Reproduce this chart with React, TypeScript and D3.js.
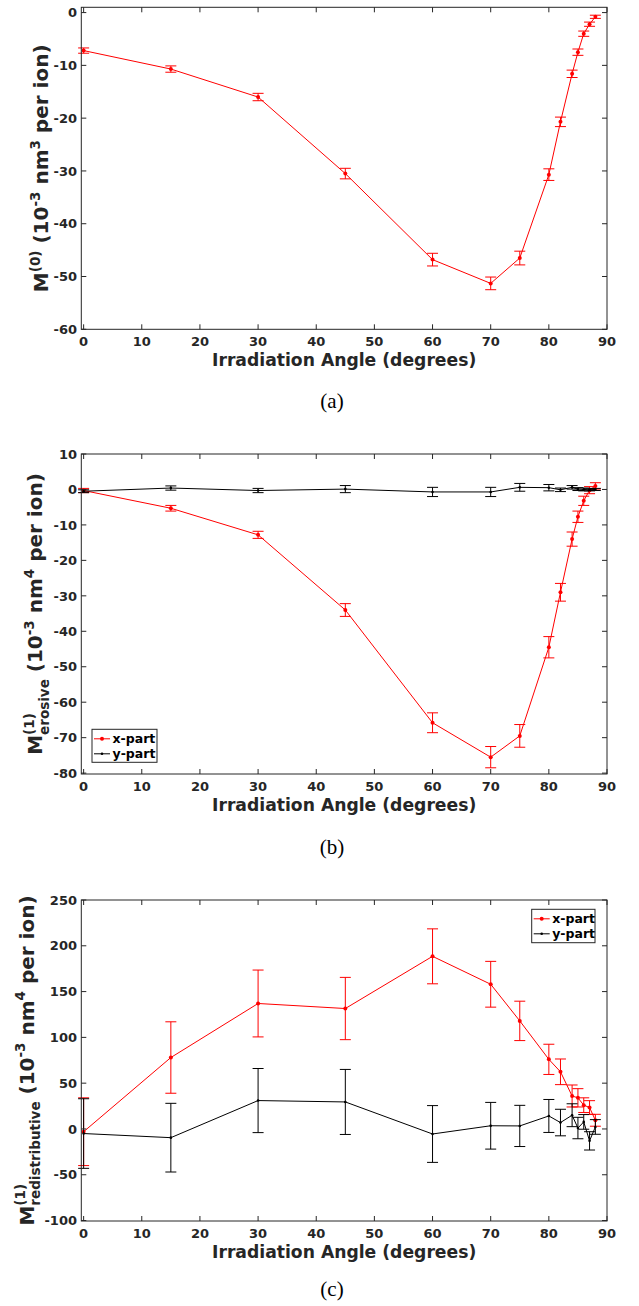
import React from 'react';
import * as d3 from 'd3';

// ---------- data ----------
const angles = [0, 15, 30, 45, 60, 70, 75, 80, 82, 84, 85, 86, 87, 88];

const m0Values = [-7.2, -10.7, -16.0, -30.5, -46.8, -51.3, -46.5, -30.7, -20.7, -11.6, -7.5, -4.0, -2.2, -0.8];
const m0Errors = [0.5, 0.6, 0.7, 1.0, 1.2, 1.2, 1.3, 1.1, 0.9, 0.7, 0.6, 0.5, 0.4, 0.3];

const erosiveX = [-0.3, -5.3, -12.8, -34.0, -65.8, -75.5, -69.5, -44.5, -29.0, -14.0, -7.7, -3.2, -0.2, 1.0];
const erosiveXErr = [0.6, 0.8, 1.0, 1.8, 2.8, 3.0, 3.2, 3.0, 2.5, 2.0, 1.6, 1.3, 1.0, 0.9];
const erosiveY = [-0.5, 0.4, -0.3, 0.1, -0.7, -0.7, 0.6, 0.5, -0.1, 0.6, 0.1, 0.0, -0.1, 0.0];
const erosiveYErr = [0.4, 0.6, 0.6, 1.0, 1.3, 1.3, 1.1, 0.9, 0.5, 0.5, 0.4, 0.4, 0.3, 0.3];

const redistX = [-3, 78, 137, 131.5, 188.5, 158, 118, 76, 62.4, 36, 34, 26, 23.4, 9.5];
const redistXErr = [37, 39, 36.5, 34, 30, 25, 21.5, 16.5, 14, 12, 10, 8, 7.5, 6.5];
const redistY = [-5, -9.5, 31, 29.5, -5.5, 3.5, 3.3, 14.2, 7, 15, 1, 7.7, -13, 2.2];
const redistYErr = [38, 37.5, 35, 35.5, 31, 25.5, 22.5, 18, 14.5, 12.5, 11.7, 8, 10, 8];

const xTicks = [0, 10, 20, 30, 40, 50, 60, 70, 80, 90];
const yTicksA = [0, -10, -20, -30, -40, -50, -60];
const yTicksB = [10, 0, -10, -20, -30, -40, -50, -60, -70, -80];
const yTicksC = [250, 200, 150, 100, 50, 0, -50, -100];

const xLabel = 'Irradiation Angle (degrees)';
const legendNames = ['x-part', 'y-part'];
const captions = ['(a)', '(b)', '(c)'];

type Seg = { t: string; k: 'n' | 'sup' | 'sub' };
const yLabelA: Seg[] = [
  { t: 'M', k: 'n' }, { t: '(0)', k: 'sup' }, { t: ' (10', k: 'n' }, { t: '-3', k: 'sup' },
  { t: ' nm', k: 'n' }, { t: '3', k: 'sup' }, { t: ' per ion)', k: 'n' },
];
const yLabelB: Seg[] = [
  { t: 'M', k: 'n' }, { t: '(1)', k: 'sup' }, { t: 'erosive', k: 'sub' }, { t: ' (10', k: 'n' }, { t: '-3', k: 'sup' },
  { t: ' nm', k: 'n' }, { t: '4', k: 'sup' }, { t: ' per ion)', k: 'n' },
];
const yLabelC: Seg[] = [
  { t: 'M', k: 'n' }, { t: '(1)', k: 'sup' }, { t: 'redistributive', k: 'sub' }, { t: ' (10', k: 'n' }, { t: '-3', k: 'sup' },
  { t: ' nm', k: 'n' }, { t: '4', k: 'sup' }, { t: ' per ion)', k: 'n' },
];

// ---------- helpers ----------
const AX = '#262626';
const FONT = '"DejaVu Sans", sans-serif';
let ctx: CanvasRenderingContext2D | null = null;
function textWidth(s: string, size: number) {
  if (!ctx) ctx = document.createElement('canvas').getContext('2d');
  if (!ctx) return s.length * size * 0.6;
  ctx.font = `bold ${size}px "DejaVu Sans"`;
  return ctx.measureText(s).width;
}

type Series = { values: number[]; errors: number[]; color: string; r: number };
type PanelCfg = {
  top: number; bottom: number; yDomain: [number, number]; yTicks: number[];
  series: Series[]; label: Seg[]; labelX: number; caption: string; captionY: number;
  legend?: { x: number; y: number; w: number; h: number };
};

const LEFT = 81.3, RIGHT = 607;
const XLABEL_SIZE = 17.2, YLABEL_SIZE = 20, SUB_SIZE = 13.5, TICK_SIZE = 13;

function YLabel({ segs, x, y }: { segs: Seg[]; x: number; y: number }) {
  const offs: Record<string, number> = { n: 0, sup: -8.5, sub: 6.5 };
  let cur = 0;
  const spans: React.ReactNode[] = [];
  segs.forEach((s, i) => {
    const target = offs[s.k];
    const dy = target - cur;
    cur = target;
    let dx = 0;
    if (s.k === 'sub' && i > 0 && segs[i - 1].k === 'sup') dx = -textWidth(segs[i - 1].t, SUB_SIZE);
    spans.push(
      <tspan key={i} dy={dy} dx={dx || undefined} fontSize={s.k === 'n' ? YLABEL_SIZE : SUB_SIZE} style={{ whiteSpace: 'pre' }}>
        {s.t}
      </tspan>
    );
  });
  return (
    <text transform={`translate(${x},${y}) rotate(-90)`} textAnchor="middle" fontFamily={FONT} fontWeight="bold" fill={AX} style={{ whiteSpace: 'pre' }}>
      {spans}
    </text>
  );
}

function Panel({ cfg }: { cfg: PanelCfg }) {
  const x = d3.scaleLinear().domain([-0.4, 90]).range([LEFT, RIGHT]);
  const y = d3.scaleLinear().domain(cfg.yDomain).range([cfg.bottom, cfg.top]);
  const line = d3.line<number>().x((_, i) => x(angles[i])).y((d) => y(d));
  const tl = 5;
  const cap = 5.5;
  return (
    <g>
      {cfg.series.map((s, si) => (
        <g key={si}>
          <path d={line(s.values) || ''} fill="none" stroke={s.color} strokeWidth={1} />
          {s.values.map((v, i) => {
            const cx = x(angles[i]);
            const y1 = y(v + s.errors[i]);
            const y2 = y(v - s.errors[i]);
            return (
              <g key={i} stroke={s.color} strokeWidth={1}>
                <line x1={cx} x2={cx} y1={y1} y2={y2} />
                <line x1={cx - cap} x2={cx + cap} y1={y1} y2={y1} />
                <line x1={cx - cap} x2={cx + cap} y1={y2} y2={y2} />
                <circle cx={cx} cy={y(v)} r={s.r} fill={s.color} stroke="none" />
              </g>
            );
          })}
        </g>
      ))}
      <rect x={LEFT} y={cfg.top} width={RIGHT - LEFT} height={cfg.bottom - cfg.top} fill="none" stroke={AX} strokeWidth={1} />
      {xTicks.map((t) => (
        <g key={'x' + t}>
          <line x1={x(t)} x2={x(t)} y1={cfg.bottom} y2={cfg.bottom - tl} stroke={AX} />
          <line x1={x(t)} x2={x(t)} y1={cfg.top} y2={cfg.top + tl} stroke={AX} />
          <text x={x(t)} y={cfg.bottom + 16.7} textAnchor="middle" fontFamily={FONT} fontWeight="bold" fontSize={TICK_SIZE} fill={AX}>
            {t}
          </text>
        </g>
      ))}
      {cfg.yTicks.map((t) => (
        <g key={'y' + t}>
          <line x1={LEFT} x2={LEFT + tl} y1={y(t)} y2={y(t)} stroke={AX} />
          <line x1={RIGHT} x2={RIGHT - tl} y1={y(t)} y2={y(t)} stroke={AX} />
          <text x={77} y={y(t) + 4.7} textAnchor="end" fontFamily={FONT} fontWeight="bold" fontSize={TICK_SIZE} fill={AX}>
            {t}
          </text>
        </g>
      ))}
      <text x={(LEFT + RIGHT) / 2} y={cfg.bottom + 36.5} textAnchor="middle" fontFamily={FONT} fontWeight="bold" fontSize={XLABEL_SIZE} fill={AX}>
        {xLabel}
      </text>
      <YLabel segs={cfg.label} x={cfg.labelX} y={(cfg.top + cfg.bottom) / 2} />
      {cfg.legend && (
        <g>
          <rect x={cfg.legend.x} y={cfg.legend.y} width={cfg.legend.w} height={cfg.legend.h} fill="white" stroke={AX} strokeWidth={1} />
          {cfg.series.map((s, i) => {
            const ly = cfg.legend!.y + 9.5 + i * 15;
            const lx = cfg.legend!.x + 2;
            return (
              <g key={i}>
                <line x1={lx} x2={lx + 16} y1={ly} y2={ly} stroke={s.color} strokeWidth={1} />
                <circle cx={lx + 8} cy={ly} r={s.r} fill={s.color} />
                <text x={lx + 18.5} y={ly + 4.5} fontFamily={FONT} fontWeight="bold" fontSize={12.5} fill="#000">
                  {legendNames[i]}
                </text>
              </g>
            );
          })}
        </g>
      )}
      <text x={332} y={cfg.captionY} textAnchor="middle" fontFamily='"Liberation Serif", serif' fontSize={21} fill="#000">
        {cfg.caption}
      </text>
    </g>
  );
}

const panels: PanelCfg[] = [
  {
    top: 7.3, bottom: 329.3, yDomain: [-60, 1], yTicks: yTicksA,
    series: [{ values: m0Values, errors: m0Errors, color: '#ff0000', r: 2 }],
    label: yLabelA, labelX: 48, caption: captions[0], captionY: 408,
  },
  {
    top: 454, bottom: 774, yDomain: [-80.25, 10], yTicks: yTicksB,
    series: [
      { values: erosiveX, errors: erosiveXErr, color: '#ff0000', r: 2 },
      { values: erosiveY, errors: erosiveYErr, color: '#000000', r: 1.3 },
    ],
    label: yLabelB, labelX: 42, caption: captions[1], captionY: 854,
    legend: { x: 92, y: 729.3, w: 65, h: 33 },
  },
  {
    top: 900, bottom: 1221, yDomain: [-100.5, 250], yTicks: yTicksC,
    series: [
      { values: redistX, errors: redistXErr, color: '#ff0000', r: 2 },
      { values: redistY, errors: redistYErr, color: '#000000', r: 1.3 },
    ],
    label: yLabelC, labelX: 33.5, caption: captions[2], captionY: 1296,
    legend: { x: 531.7, y: 909.3, w: 63.3, h: 33.4 },
  },
];

export default function App() {
  return (
    <svg width={639} height={1306} style={{ position: 'absolute', left: 0, top: 0, background: 'white' }}>
      {panels.map((p, i) => (
        <Panel key={i} cfg={p} />
      ))}
    </svg>
  );
}
